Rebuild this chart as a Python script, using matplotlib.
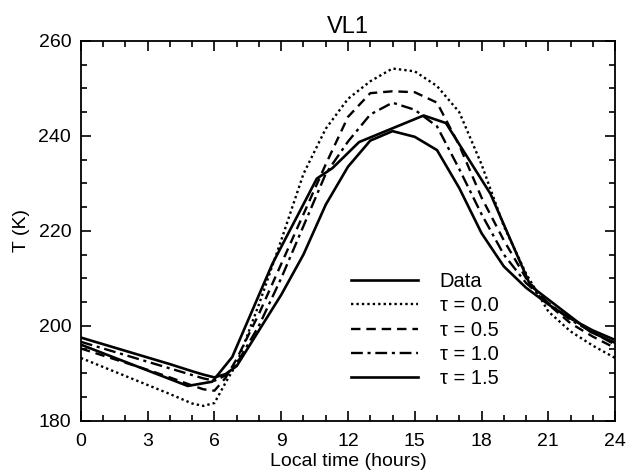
import matplotlib
matplotlib.use('Agg')
import matplotlib.pyplot as plt
from matplotlib.ticker import MultipleLocator

plt.rcParams['font.family'] = ['Liberation Sans', 'DejaVu Sans']

# Observed data (Viking Lander 1)
data_t = [0, 4.8, 5.9, 6.8, 8.6, 10.6, 11.3, 12.5, 15.4, 16.4, 18.4, 20.2, 22.9, 24]
data_T = [196.0, 187.3, 188.2, 193.4, 213.0, 231.0, 233.2, 238.7, 244.3, 242.7,
          227.8, 208.4, 198.7, 196.4]

# Model runs, common time grid
model_t = [0, 1, 2, 3, 4, 5, 5.5, 6, 6.5, 7, 8, 9, 10, 11, 12, 13, 14, 15, 16,
           17, 18, 19, 20, 21, 22, 23, 24]
tau00 = [193.2, 191.3, 189.4, 187.5, 185.6, 183.6, 183.1, 183.7, 188.0, 192.0,
         204.5, 218.0, 232.0, 241.5, 247.8, 251.5, 254.2, 253.6, 250.5, 245.0,
         234.0, 221.0, 211.0, 203.0, 198.8, 195.8, 193.2]
tau05 = [195.2, 193.7, 192.2, 190.7, 189.1, 187.4, 186.6, 186.3, 189.0, 193.0,
         202.5, 213.0, 223.5, 234.0, 244.0, 249.0, 249.4, 249.2, 247.0, 238.0,
         227.0, 218.0, 210.0, 204.5, 200.5, 197.7, 195.3]
tau10 = [196.6, 195.2, 193.8, 192.4, 191.0, 189.6, 188.9, 188.4, 189.5, 192.0,
         200.0, 210.0, 221.0, 232.0, 238.8, 244.5, 247.0, 245.5, 242.0, 233.0,
         223.5, 215.0, 209.0, 204.8, 201.2, 198.6, 196.0]
tau15 = [197.5, 196.1, 194.7, 193.3, 191.9, 190.4, 189.7, 189.1, 189.8, 191.5,
         199.0, 206.5, 215.0, 225.5, 233.5, 239.0, 241.0, 239.8, 237.0, 229.0,
         219.5, 212.5, 208.0, 204.5, 201.5, 199.0, 197.0]

fig = plt.figure(figsize=(6.27, 4.71), dpi=100)
ax = fig.add_axes([0.129, 0.107, 0.852, 0.806])

lw = 1.7
ax.plot(data_t, data_T, color='black', lw=1.9, ls='-', label='Data')
ax.plot(model_t, tau00, color='black', lw=lw, ls=(0, (1, 1.3)), label='τ = 0.0')
ax.plot(model_t, tau05, color='black', lw=lw, ls=(0, (4, 2.5)), label='τ = 0.5')
ax.plot(model_t, tau10, color='black', lw=lw, ls=(0, (5, 2, 1.3, 2)), label='τ = 1.0')
ax.plot(model_t, tau15, color='black', lw=1.9, ls='-', label='τ = 1.5')

ax.set_xlim(0, 24)
ax.set_ylim(180, 260)
ax.xaxis.set_major_locator(MultipleLocator(3))
ax.xaxis.set_minor_locator(MultipleLocator(1))
ax.yaxis.set_major_locator(MultipleLocator(20))
ax.yaxis.set_minor_locator(MultipleLocator(5))
ax.tick_params(which='both', direction='in', top=True, right=True,
               labelsize=14, width=1.2)
ax.tick_params(axis='x', pad=9)
ax.tick_params(axis='y', pad=7)
ax.tick_params(which='major', length=7)
ax.tick_params(which='minor', length=4)
for s in ax.spines.values():
    s.set_linewidth(1.3)

ax.set_title('VL1', fontsize=17, pad=6)
ax.set_xlabel('Local time (hours)', fontsize=14, labelpad=2)
ax.set_ylabel('T (K)', fontsize=14, labelpad=6)

ax.legend(loc='upper left', bbox_to_anchor=(0.472, 0.44), frameon=False,
          fontsize=14.5, handlelength=3.3, handletextpad=1.1, labelspacing=0.27)

fig.savefig('out.png', dpi=100)
